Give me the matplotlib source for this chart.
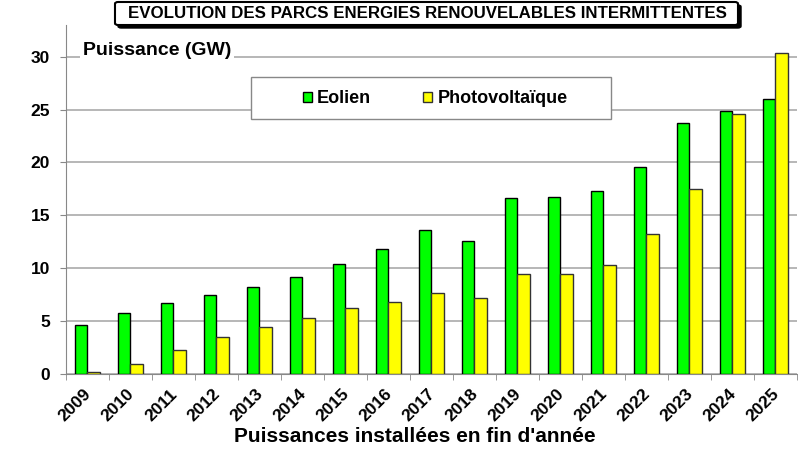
import numpy as np
import matplotlib.pyplot as plt
import matplotlib.transforms as mtransforms
from matplotlib.patches import FancyBboxPatch, Rectangle

plt.rcParams['font.family'] = ['Liberation Sans', 'DejaVu Sans']
plt.rcParams['font.weight'] = 'bold'

# Data
years = ["2009", "2010", "2011", "2012", "2013", "2014", "2015", "2016", "2017",
         "2018", "2019", "2020", "2021", "2022", "2023", "2024", "2025"]
eolien = [4.6, 5.8, 6.7, 7.5, 8.2, 9.2, 10.4, 11.8, 13.6,
          12.6, 16.6, 16.7, 17.3, 19.6, 23.7, 24.9, 26.0]
photovoltaique = [0.2, 0.9, 2.3, 3.5, 4.4, 5.3, 6.2, 6.8, 7.7,
                  7.2, 9.5, 9.5, 10.3, 13.2, 17.5, 24.6, 30.4]

fig = plt.figure(figsize=(7.98, 4.53), dpi=100)
ax = fig.add_axes([0.0827, 0.1744, 0.916, 0.7704])

x = np.arange(len(years))
w = 0.29
ax.bar(x - w / 2, eolien, w, color="#00ff00", edgecolor="black", linewidth=1.0,
       label="Eolien", zorder=3)
ax.bar(x + w / 2, photovoltaique, w, color="#ffff00", edgecolor="#333333", linewidth=1.0,
       label="Photovoltaïque", zorder=3)

ax.set_xlim(-0.5, len(years) - 0.5)
ax.set_ylim(0, 33)
ax.set_yticks([0, 5, 10, 15, 20, 25, 30])
ax.yaxis.grid(True, color="#aaaaaa", linewidth=1.2, zorder=0)
ax.set_axisbelow(True)

for s in ["top", "right"]:
    ax.spines[s].set_visible(False)
ax.spines["left"].set_color("#888888")
ax.spines["bottom"].set_color("#888888")

ax.set_xticks(x)
ax.set_xticklabels(years, rotation=45, ha="right", rotation_mode="anchor",
                   fontsize=12.5, fontweight="bold")
ax.tick_params(axis="x", length=0, pad=9)
shift = mtransforms.ScaledTranslation(-4 / 100, 0, fig.dpi_scale_trans)
for lab in ax.get_xticklabels():
    lab.set_transform(lab.get_transform() + shift)
ax.set_xticks(np.arange(-0.5, len(years)), minor=True)
ax.tick_params(axis="x", which="minor", length=4, color="#888888")
ax.tick_params(axis="y", labelsize=12.5, length=4.5, color="#888888", pad=7)
for lab in ax.get_yticklabels():
    lab.set_fontweight("bold")

ax.set_xlabel("Puissances installées en fin d'année", fontsize=15, fontweight="bold")
ax.xaxis.set_label_coords(0.477, -0.152)

ax.text(0.0233, 0.928, "Puissance (GW)", transform=ax.transAxes, fontsize=14,
        fontweight="bold", va="center", ha="left",
        bbox=dict(facecolor="white", edgecolor="none", pad=2), zorder=5)

# legend box
ax.add_patch(Rectangle((0.253, 0.7307), 0.4925, 0.1203, transform=ax.transAxes,
                       facecolor="white", edgecolor="#888888", linewidth=1.0, zorder=4))
leg = ax.legend(loc="center left", bbox_to_anchor=(0.324, 0.788), ncol=2,
                fontsize=13, frameon=False,
                handlelength=0.5, handleheight=0.5, handletextpad=0.28,
                columnspacing=2.9, borderpad=0, borderaxespad=0)
leg.set_zorder(6)
for t in leg.get_texts():
    t.set_fontweight("bold")

# title in a framed box with shadow
fig.patches.append(FancyBboxPatch((0.1479, 0.9382), 0.7807, 0.0508,
                                  boxstyle="round,pad=0,rounding_size=0.004",
                                  transform=fig.transFigure, facecolor="black",
                                  edgecolor="black", zorder=1))
fig.patches.append(FancyBboxPatch((0.1441, 0.9448), 0.7807, 0.0508,
                                  boxstyle="round,pad=0,rounding_size=0.004",
                                  transform=fig.transFigure, facecolor="white",
                                  edgecolor="black", linewidth=1.5, zorder=2))
fig.text(0.5357, 0.970, "EVOLUTION DES PARCS ENERGIES RENOUVELABLES INTERMITTENTES",
         ha="center", va="center", fontsize=12.2, fontweight="bold", zorder=3)

fig.savefig("out.png", dpi=100)
